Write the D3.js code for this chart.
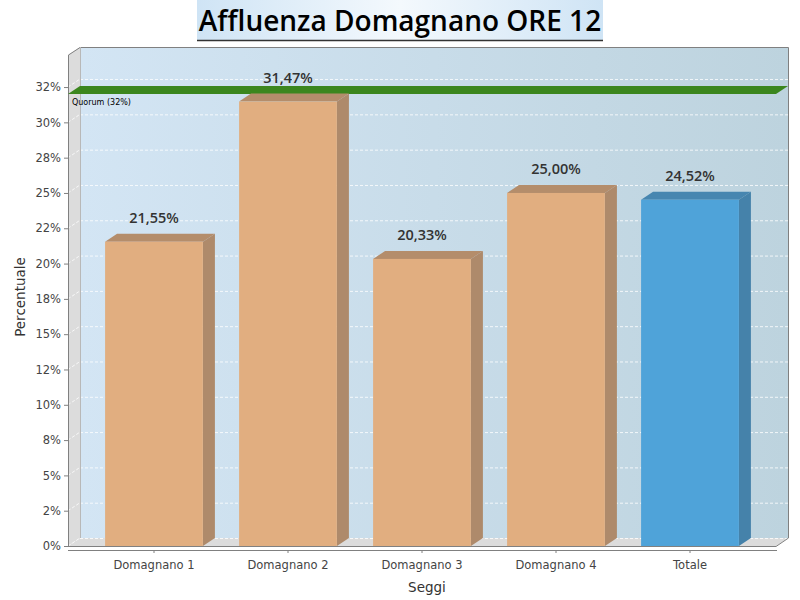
<!DOCTYPE html>
<html><head><meta charset="utf-8">
<script src="https://cdn.jsdelivr.net/npm/d3@7"></script>
<style>body{margin:0;background:#fff}svg{display:block}</style>
</head><body>
<svg id="c" width="800" height="600"></svg>
<script>
const categories = ["Domagnano 1","Domagnano 2","Domagnano 3","Domagnano 4","Totale"];
const values = [21.55, 31.47, 20.33, 25.00, 24.52];
const valueLabels = ["21,55%","31,47%","20,33%","25,00%","24,52%"];
const isTotal = [false,false,false,false,true];
const tickValues = [0,2.5,5,7.5,10,12.5,15,17.5,20,22.5,25,27.5,30,32.5];
const tickLabels = ["0%","2%","5%","8%","10%","12%","15%","18%","20%","22%","25%","28%","30%","32%"];
const quorum = 32;
const quorumLabel = "Quorum (32%)";

const svg = d3.select("#c");
const L = 68, R = 776, B = 546, T = 55, DX = 12, DY = 8;
const y = d3.scaleLinear().domain([0, 34.77]).range([B, T]);
const x = d3.scaleBand().domain(categories).range([87, 757]).paddingInner(0.27).paddingOuter(0.135);

const defs = svg.append("defs");
const bg = defs.append("linearGradient").attr("id","bg");
bg.append("stop").attr("offset","0").attr("stop-color","#d3e5f4");
bg.append("stop").attr("offset","1").attr("stop-color","#bdd3de");
const tg = defs.append("linearGradient").attr("id","tg");
tg.append("stop").attr("offset","0").attr("stop-color","#cfe4f5");
tg.append("stop").attr("offset","0.5").attr("stop-color","#f4f9fd");
tg.append("stop").attr("offset","1").attr("stop-color","#cfe4f5");

// title
svg.append("rect").attr("x",197).attr("y",0).attr("width",406).attr("height",40).attr("fill","url(#tg)");
svg.append("line").attr("x1",197).attr("x2",603).attr("y1",40.5).attr("y2",40.5).attr("stroke","#333").attr("stroke-width",1.5);
svg.append("text").attr("x",400).attr("y",31).attr("text-anchor","middle")
  .attr("font-family","Open Sans").attr("font-weight",600).attr("font-size",28).attr("fill","#000")
  .text("Affluenza Domagnano ORE 12");

// back wall
svg.append("rect").attr("x",L+DX).attr("y",T-DY+1).attr("width",R-L).attr("height",B-T-1).attr("fill","url(#bg)");
// left wall
svg.append("path").attr("d",`M${L},${T}L${L+DX},${T-DY}L${L+DX},${B-DY}L${L},${B}Z`).attr("fill","#dcdcdc");
// floor
svg.append("path").attr("d",`M${L},${B}L${L+DX},${B-DY}L${R+DX},${B-DY}L${R},${B}Z`).attr("fill","#dcdcdc");

// gridlines
const g = svg.append("g");
tickValues.forEach(v => {
  const yy = y(v);
  g.append("line").attr("x1",L+DX).attr("x2",R+DX).attr("y1",yy-DY+0.5).attr("y2",yy-DY+0.5)
    .attr("stroke","#fff").attr("stroke-opacity",0.8).attr("stroke-dasharray","3,2");
  g.append("line").attr("x1",L).attr("x2",L+DX).attr("y1",yy).attr("y2",yy-DY)
    .attr("stroke","#fff").attr("stroke-opacity",0.8).attr("stroke-dasharray","3,2");
});

// outlines
svg.append("path").attr("d",`M${L+0.5},${B}L${L+0.5},${T}L${L+DX},${T-DY+0.5}L${R+DX+0.5},${T-DY+0.5}L${R+DX+0.5},${B-DY}L${R},${B+0.5}L${L},${B+0.5}`)
  .attr("fill","none").attr("stroke","#808080");
svg.append("line").attr("x1",L+DX+0.5).attr("x2",L+DX+0.5).attr("y1",T-DY).attr("y2",B-DY).attr("stroke","#b8b8b8");

// quorum marker
const qy = y(quorum);
svg.append("path").attr("d",`M${L},${qy}L${L+DX},${qy-DY}L${R+DX},${qy-DY}L${R},${qy}Z`).attr("fill","#3b861e");
svg.append("text").attr("x",L+4).attr("y",qy+11).attr("font-family","DejaVu Sans").attr("font-size",8).attr("fill","#000").text(quorumLabel);

// bars
const bars = svg.append("g");
categories.forEach((c,i) => {
  const x0 = x(c), x1 = x0 + x.bandwidth(), yv = y(values[i]);
  const col = isTotal[i] ? {f:"#4fa3d9", s:"#4582aa", t:"#4786b0"} : {f:"#e1ae80", s:"#ae8a6b", t:"#b48d6b"};
  bars.append("path").attr("d",`M${x0},${yv}L${x0+DX},${yv-DY}L${x1+DX},${yv-DY}L${x1},${yv}Z`).attr("fill",col.t);
  bars.append("path").attr("d",`M${x1},${yv}L${x1+DX},${yv-DY}L${x1+DX},${B-DY}L${x1},${B}Z`).attr("fill",col.s);
  bars.append("rect").attr("x",x0).attr("y",yv).attr("width",x.bandwidth()).attr("height",B-yv).attr("fill",col.f);
  bars.append("text").attr("x",x0+x.bandwidth()/2).attr("y",yv-19).attr("text-anchor","middle")
    .attr("font-family","Open Sans").attr("font-weight",600).attr("font-size",14.5).attr("fill","#333").text(valueLabels[i]);
});

// y axis
const ya = svg.append("g").attr("transform",`translate(${L},0)`)
  .call(d3.axisLeft(y).tickValues(tickValues).tickFormat((d,i)=>tickLabels[i]).tickSize(4).tickPadding(3));
ya.select(".domain").remove();
ya.selectAll("line").attr("stroke","#808080");
ya.selectAll("text").attr("font-family","DejaVu Sans").attr("font-size",11.5).attr("fill","#444");

// x axis
const xa = svg.append("g").attr("transform",`translate(0,${B+4})`)
  .call(d3.axisBottom(x).tickSize(3).tickSizeOuter(0).tickPadding(8));
xa.select(".domain").attr("stroke","#808080").attr("d",`M${L},0.5H${R+1}`);
xa.selectAll("line").attr("stroke","#808080");
xa.selectAll("text").attr("font-family","DejaVu Sans").attr("font-size",11.5).attr("fill","#444");

svg.append("text").attr("x",427).attr("y",592).attr("text-anchor","middle")
  .attr("font-family","DejaVu Sans").attr("font-size",13.5).attr("fill","#333").text("Seggi");
svg.append("text").attr("transform","translate(25,297) rotate(-90)").attr("text-anchor","middle")
  .attr("font-family","DejaVu Sans").attr("font-size",13.5).attr("fill","#333").text("Percentuale");
</script>
</body></html>
